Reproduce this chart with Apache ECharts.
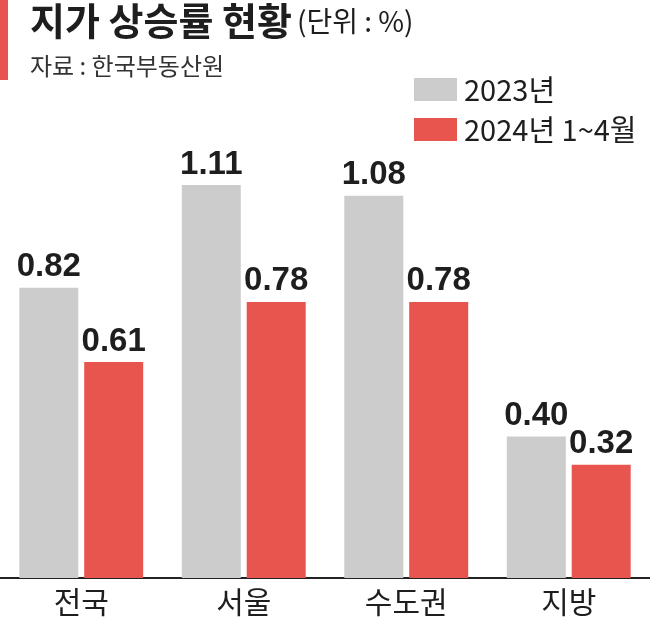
<!DOCTYPE html>
<html>
<head>
<meta charset="utf-8">
<script src="https://cdn.jsdelivr.net/npm/echarts@6/dist/echarts.min.js"></script>
<style>
  html, body { margin: 0; padding: 0; background: #fff; }
  #chart { width: 650px; height: 626px; }
</style>
</head>
<body>
<div id="chart"></div>
<script>
// 지역 구분
const regions = ["전국", "서울", "수도권", "지방"];
// 2023년 지가 상승률 (%)
const rate2023 = [0.82, 1.11, 1.08, 0.40];
// 2024년 1~4월 지가 상승률 (%)
const rate2024 = [0.61, 0.78, 0.78, 0.32];
const seriesNames = ["2023년", "2024년 1~4월"];

const GRAY = "#cccccc";
const RED = "#e8554f";
const NUM_FONT = '"Liberation Sans Narrow", "Liberation Sans", Arial, sans-serif';
const KR_FONT = '"Noto Sans CJK KR", sans-serif';

const chart = echarts.init(document.getElementById("chart"));

const valueLabel = {
    show: true,
    position: "top",
    distance: 4,
    fontFamily: NUM_FONT,
    fontWeight: "bold",
    fontSize: 33,
    color: "#1e1e1e",
    // 소수점 두 자리로 표시
    formatter: p => p.value.toFixed(2),
};

chart.setOption({
    animation: false,
    title: {
        left: 25,
        top: -6,
        text: "{a|지가 상승률 현황} {b|(단위 : %)}",
        textStyle: {
            rich: {
                a: { fontFamily: KR_FONT, fontWeight: "bold", fontSize: 38, color: "#1e1e1e", lineHeight: 44 },
                b: { fontFamily: KR_FONT, fontWeight: "normal", fontSize: 28, color: "#1e1e1e", lineHeight: 44 },
            },
        },
        subtext: "자료 : 한국부동산원",
        itemGap: 14,
        subtextStyle: { fontFamily: KR_FONT, fontSize: 24, color: "#333", lineHeight: 30 },
    },
    // 왼쪽 빨간 세로 막대
    graphic: [
        { type: "rect", left: 0, top: 0, shape: { width: 8, height: 80 }, style: { fill: RED } },
    ],
    legend: {
        orient: "vertical",
        left: 409,
        top: 70,
        itemWidth: 43,
        itemHeight: 23,
        itemGap: 11,
        icon: "rect",
        data: seriesNames,
        textStyle: { fontFamily: KR_FONT, fontSize: 29, color: "#1e1e1e", padding: [0, 0, 0, 2] },
    },
    grid: { left: 0, right: 0, top: 47, bottom: 48, containLabel: false },
    xAxis: {
        type: "category",
        data: regions,
        axisTick: { show: false },
        axisLine: { lineStyle: { color: "#222", width: 2 } },
        axisLabel: { fontFamily: KR_FONT, fontSize: 30, color: "#1e1e1e", margin: 9 },
    },
    yAxis: {
        type: "value",
        min: 0,
        max: 1.5,
        show: false,
        splitLine: { show: false },
    },
    series: [
        {
            name: seriesNames[0],
            type: "bar",
            data: rate2023,
            barWidth: 59,
            barGap: "10%",
            itemStyle: { color: GRAY },
            label: valueLabel,
        },
        {
            name: seriesNames[1],
            type: "bar",
            data: rate2024,
            barWidth: 59,
            itemStyle: { color: RED },
            label: valueLabel,
        },
    ],
});
</script>
</body>
</html>
